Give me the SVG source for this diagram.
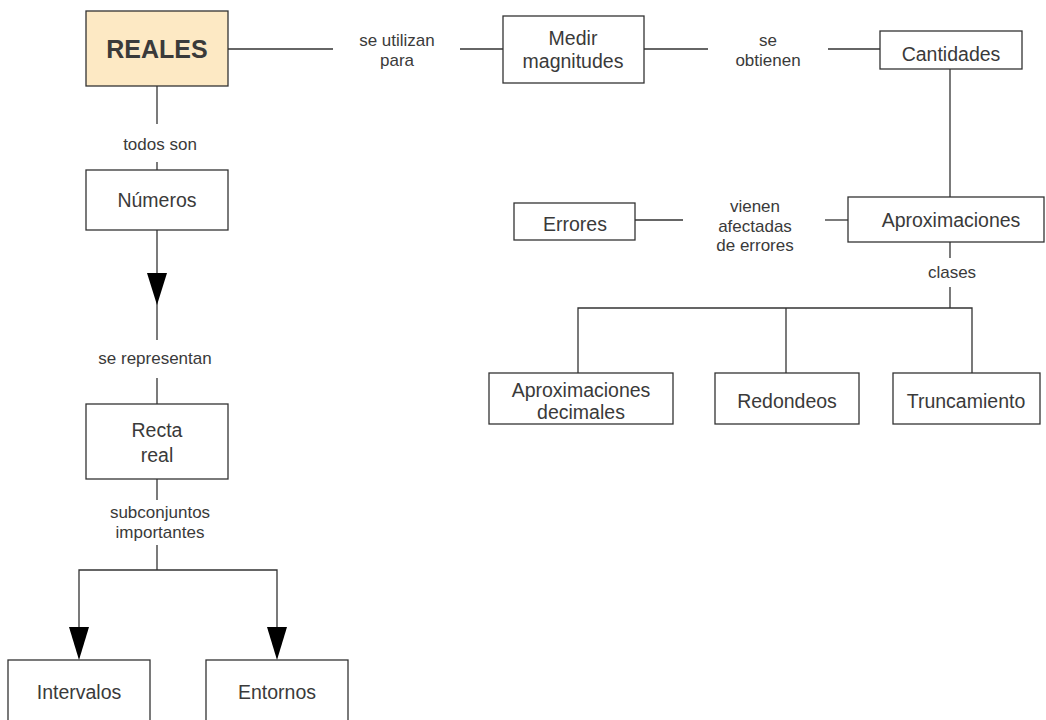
<svg xmlns="http://www.w3.org/2000/svg" width="1046" height="720" viewBox="0 0 1046 720">
<style>
.box{fill:#fff;stroke:#333;stroke-width:1.3}
.t{font-family:"Liberation Sans",Arial,sans-serif;font-size:19.5px;fill:#3a3a3a;text-anchor:middle}
.l{font-family:"Liberation Sans",Arial,sans-serif;font-size:17px;fill:#3a3a3a;text-anchor:middle}
.c{stroke:#333;stroke-width:1.3;fill:none}
.a{fill:#000}
</style>
<rect width="1046" height="720" fill="#fff"/>
<g id="connectors">
<line class="c" x1="228" y1="49" x2="333" y2="49"/>
<text class="l" x="397" y="46">se utilizan</text>
<text class="l" x="397" y="66">para</text>
<line class="c" x1="460" y1="49" x2="503" y2="49"/>
<line class="c" x1="644" y1="49" x2="708" y2="49"/>
<text class="l" x="768" y="46">se</text>
<text class="l" x="768" y="66">obtienen</text>
<line class="c" x1="828" y1="49" x2="880" y2="49"/>
<line class="c" x1="950" y1="69" x2="950" y2="197"/>
<line class="c" x1="825" y1="220" x2="848" y2="220"/>
<text class="l" x="755" y="212">vienen</text>
<text class="l" x="755" y="232">afectadas</text>
<text class="l" x="755" y="251">de errores</text>
<line class="c" x1="635" y1="220" x2="683" y2="220"/>
<line class="c" x1="950" y1="242" x2="950" y2="258"/>
<text class="l" x="952" y="278">clases</text>
<line class="c" x1="950" y1="287" x2="950" y2="308"/>
<polyline class="c" points="578,373 578,308 972,308 972,373"/>
<line class="c" x1="786" y1="308" x2="786" y2="373"/>
<line class="c" x1="157" y1="86" x2="157" y2="124"/>
<text class="l" x="160" y="150">todos son</text>
<line class="c" x1="157" y1="162" x2="157" y2="170"/>
<line class="c" x1="157" y1="230" x2="157" y2="340"/>
<polygon class="a" points="147,273 167,273 157,305"/>
<text class="l" x="155" y="364">se representan</text>
<line class="c" x1="157" y1="378" x2="157" y2="404"/>
<line class="c" x1="157" y1="479" x2="157" y2="500"/>
<text class="l" x="160" y="518">subconjuntos</text>
<text class="l" x="160" y="538">importantes</text>
<line class="c" x1="157" y1="545" x2="157" y2="570"/>
<polyline class="c" points="79,640 79,570 277,570 277,640"/>
<polygon class="a" points="69,627 89,627 79,660"/>
<polygon class="a" points="267,627 287,627 277,660"/>
</g>
<g id="reales"><rect x="86" y="11" width="142" height="75" fill="#fde9c4" stroke="#333" stroke-width="1.3"/><text class="t" x="157" y="58" style="font-size:25px;font-weight:bold">REALES</text></g>
<g id="medir"><rect class="box" x="503" y="16" width="141" height="67"/><text class="t" x="573" y="45">Medir</text><text class="t" x="573" y="68">magnitudes</text></g>
<g id="cantidades"><rect class="box" x="880" y="31" width="142" height="38"/><text class="t" x="951" y="61">Cantidades</text></g>
<g id="aproximaciones"><rect class="box" x="848" y="197" width="196" height="45"/><text class="t" x="951" y="227">Aproximaciones</text></g>
<g id="errores"><rect class="box" x="514" y="203" width="121" height="37"/><text class="t" x="575" y="231">Errores</text></g>
<g id="aprox-decimales"><rect class="box" x="489" y="373" width="184" height="51"/><text class="t" x="581" y="397">Aproximaciones</text><text class="t" x="581" y="419">decimales</text></g>
<g id="redondeos"><rect class="box" x="715" y="373" width="144" height="51"/><text class="t" x="787" y="408">Redondeos</text></g>
<g id="truncamiento"><rect class="box" x="893" y="373" width="147" height="51"/><text class="t" x="966" y="408">Truncamiento</text></g>
<g id="numeros"><rect class="box" x="86" y="170" width="142" height="60"/><text class="t" x="157" y="207">Números</text></g>
<g id="recta"><rect class="box" x="86" y="404" width="142" height="75"/><text class="t" x="157" y="437">Recta</text><text class="t" x="157" y="462">real</text></g>
<g id="intervalos"><rect class="box" x="8" y="660" width="142" height="80"/><text class="t" x="79" y="699">Intervalos</text></g>
<g id="entornos"><rect class="box" x="206" y="660" width="142" height="80"/><text class="t" x="277" y="699">Entornos</text></g>
</svg>
